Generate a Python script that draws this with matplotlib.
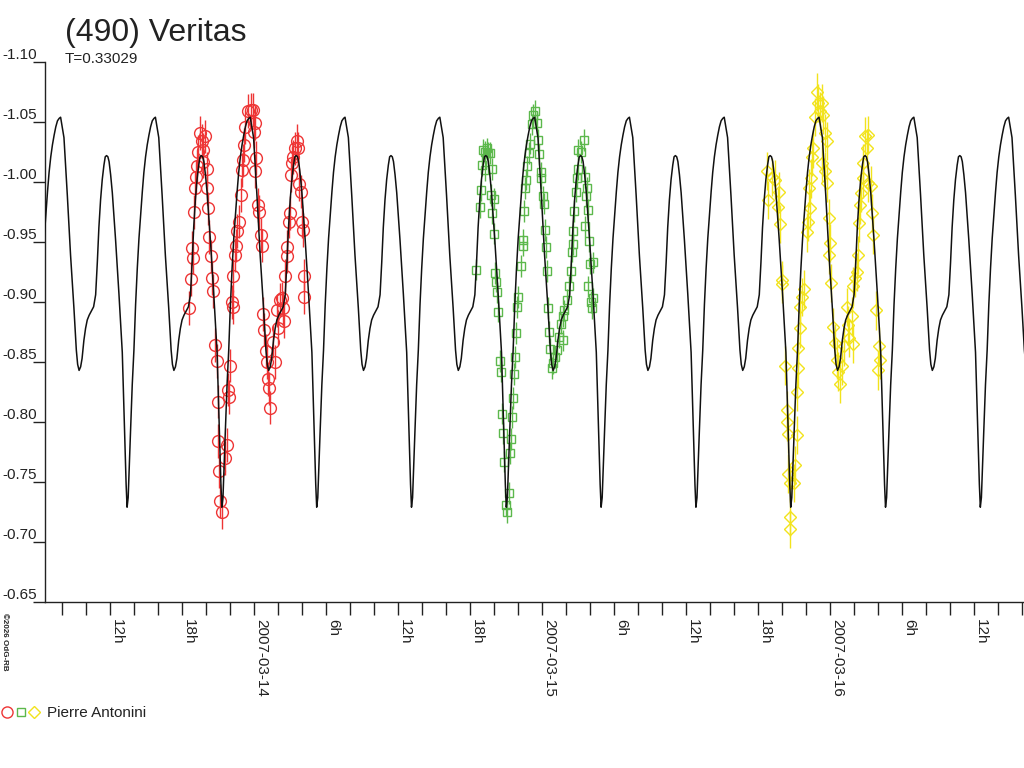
import numpy as np
import matplotlib
matplotlib.use("Agg")
import matplotlib.pyplot as plt
from matplotlib.legend_handler import HandlerTuple
from matplotlib.lines import Line2D

plt.rcParams['font.family'] = ['Liberation Sans', 'DejaVu Sans']
plt.rcParams['axes.unicode_minus'] = False

# time axis: hours since 2007-03-14 00:00 UT
x_min, x_max = -17.44, 64.14

# one rotation of the model lightcurve, phase (h) from the main maximum -> magnitude
period = 7.90
first_max = 7.56
cycle_phase = [0.00, 0.28, 0.56, 0.83, 1.11, 1.31, 1.42, 1.54, 1.67, 1.79, 1.94,
               2.08, 2.22, 2.38, 2.54, 2.75, 2.92, 3.06, 3.19, 3.33, 3.47, 3.61,
               3.72, 3.83, 3.94, 4.04, 4.17, 4.31, 4.58, 4.86, 5.14, 5.33, 5.46,
               5.54, 5.63, 5.71, 5.83, 5.97, 6.11, 6.25, 6.39, 6.53, 6.67, 6.81,
               6.94, 7.08, 7.22, 7.36, 7.50, 7.64, 7.78]
cycle_mag = [-1.054, -1.037, -0.989, -0.939, -0.895, -0.860, -0.848, -0.843, -0.846,
             -0.853, -0.868, -0.878, -0.885, -0.889, -0.892, -0.896, -0.906, -0.933,
             -0.962, -0.985, -1.002, -1.014, -1.021, -1.022, -1.021, -1.017, -1.006,
             -0.991, -0.952, -0.907, -0.858, -0.791, -0.748, -0.729, -0.737, -0.760,
             -0.793, -0.831, -0.860, -0.898, -0.928, -0.953, -0.9725, -0.992, -1.008,
             -1.021, -1.031, -1.039, -1.046, -1.051, -1.053]

# session 1 (red circles), 2007-03-13/14
red_t = [-5.41, -5.30, -5.13, -5.19, -5.02, -4.94, -4.86, -4.75, -4.66, -4.52, -4.38,
         -4.25, -4.11, -4.30, -3.97, -3.91, -3.83, -3.75, -3.63, -3.55, -3.41, -3.27,
         -3.13, -3.05, -3.00, -2.91, -2.86, -2.72, -2.44, -2.30, -2.22, -2.08, -2.02,
         -1.88, -1.80, -1.75, -1.61, -1.52, -1.47, -1.25, -1.13, -1.05, -0.97, -0.86,
         -0.77, -0.50, -0.30, -0.08, 0.06, -0.02, 0.14, 0.06, 0.34, 0.42, 0.53, 0.62,
         0.75, 0.84, 0.98, 1.03, 1.17, 1.25, 1.31, 1.53, 1.73, 1.87, 2.00, 2.14, 2.28,
         2.42, 2.50, 2.56, 2.70, 2.75, 2.92, 2.98, 3.03, 3.12, 3.25, 3.39, 3.53, 3.67,
         3.75, 3.87, 3.95, 4.03, 4.14, 4.14]
red_mag = [-0.895, -0.919, -0.937, -0.945, -0.975, -0.995, -1.004, -1.013, -1.025,
           -1.041, -1.034, -1.027, -1.038, -1.017, -1.011, -0.995, -0.978, -0.954,
           -0.938, -0.920, -0.909, -0.864, -0.851, -0.817, -0.784, -0.759, -0.734,
           -0.725, -0.770, -0.781, -0.827, -0.821, -0.847, -0.900, -0.896, -0.922,
           -0.939, -0.947, -0.959, -0.967, -0.989, -1.010, -1.018, -1.031, -1.046,
           -1.059, -1.060, -1.060, -1.049, -1.042, -1.020, -1.009, -0.981, -0.975,
           -0.956, -0.947, -0.890, -0.877, -0.859, -0.850, -0.836, -0.828, -0.812,
           -0.867, -0.850, -0.893, -0.878, -0.902, -0.903, -0.895, -0.884, -0.922,
           -0.938, -0.946, -0.967, -0.974, -1.006, -1.016, -1.021, -1.028, -1.034,
           -1.028, -0.998, -0.992, -0.967, -0.960, -0.922, -0.904]

# session 2 (green squares), 2007-03-14/15
green_t = [18.48, 18.81, 18.89, 18.95, 19.09, 19.23, 19.36, 19.50, 19.23, 19.64, 19.78,
           19.73, 19.98, 19.81, 20.00, 20.09, 20.14, 20.25, 20.34, 20.48, 20.56, 20.64,
           20.70, 20.81, 20.95, 21.09, 21.25, 21.31, 21.39, 21.48, 21.56, 21.64, 21.73,
           21.81, 21.92, 22.00, 22.23, 22.36, 22.42, 22.48, 22.56, 22.64, 22.75, 22.86,
           22.98, 23.11, 23.25, 23.39, 23.53, 23.67, 23.75, 23.86, 23.89, 24.03, 24.14,
           24.23, 24.31, 24.39, 24.48, 24.56, 24.64, 24.78, 24.92, 25.06, 25.25, 25.42,
           25.53, 25.70, 25.84, 26.03, 26.25, 26.36, 26.45, 26.53, 26.59, 26.64, 26.81,
           26.86, 26.95, 27.00, 27.23, 27.50, 27.56, 27.70, 27.61, 27.78, 27.56, 27.89,
           27.98, 28.20, 27.84, 28.03, 28.25, 28.11, 25.75]
green_mag = [-0.927, -0.979, -0.993, -1.014, -1.027, -1.025, -1.028, -1.024, -1.010,
             -1.024, -1.011, -0.989, -0.986, -0.974, -0.957, -0.924, -0.917, -0.908,
             -0.892, -0.851, -0.842, -0.807, -0.791, -0.767, -0.731, -0.725, -0.741,
             -0.774, -0.786, -0.804, -0.820, -0.840, -0.854, -0.874, -0.896, -0.904,
             -0.930, -0.947, -0.952, -0.976, -0.995, -1.002, -1.013, -1.024, -1.032,
             -1.048, -1.056, -1.059, -1.049, -1.035, -1.023, -1.008, -1.003, -0.988,
             -0.982, -0.960, -0.946, -0.926, -0.895, -0.875, -0.861, -0.845, -0.849,
             -0.854, -0.860, -0.871, -0.882, -0.888, -0.893, -0.902, -0.913, -0.926,
             -0.942, -0.948, -0.959, -0.976, -0.992, -1.003, -1.011, -1.027, -1.025,
             -1.035, -1.004, -0.995, -0.988, -0.977, -0.963, -0.951, -0.932, -0.933,
             -0.913, -0.900, -0.903, -0.895, -0.868]

# session 3 (yellow diamonds), 2007-03-15/16
yellow_t = [42.70, 42.84, 43.11, 43.39, 43.73, 43.61, 43.81, 43.95, 44.00, 44.23, 44.36,
            44.42, 44.50, 44.50, 44.64, 45.00, 44.64, 44.64, 45.06, 45.20, 45.20, 45.28,
            45.34, 45.48, 45.48, 45.61, 45.84, 46.03, 46.17, 46.31, 46.25, 46.39, 46.50,
            46.59, 46.73, 46.86, 47.00, 47.14, 47.28, 47.42, 47.56, 47.70, 47.28, 47.56,
            47.70, 47.89, 47.98, 47.89, 48.06, 48.25, 48.39, 48.53, 48.61, 48.81, 49.00,
            49.17, 49.36, 49.45, 49.59, 49.78, 49.92, 49.86, 50.06, 50.20, 50.34, 50.42,
            50.48, 50.56, 50.70, 50.75, 50.89, 51.11, 51.03, 51.17, 51.39, 51.45, 51.59,
            51.78, 52.06, 52.14, 52.00]
yellow_mag = [-1.009, -0.985, -1.004, -1.002, -0.992, -0.979, -0.965, -0.918, -0.915,
              -0.847, -0.810, -0.800, -0.790, -0.757, -0.749, -0.749, -0.721, -0.711,
              -0.764, -0.789, -0.825, -0.845, -0.862, -0.878, -0.896, -0.904, -0.911,
              -0.958, -0.967, -0.978, -0.995, -1.003, -1.021, -1.028, -1.054, -1.075,
              -1.066, -1.059, -1.066, -1.056, -1.041, -1.034, -1.016, -1.009, -0.999,
              -0.970, -0.949, -0.939, -0.916, -0.879, -0.866, -0.852, -0.842, -0.832,
              -0.847, -0.863, -0.896, -0.881, -0.870, -0.888, -0.865, -0.913, -0.920,
              -0.925, -0.939, -0.966, -0.981, -0.991, -1.003, -1.016, -1.038, -1.039,
              -1.028, -0.999, -0.997, -0.974, -0.956, -0.893, -0.863, -0.852, -0.843]

red_err, green_err, yellow_err = 0.014, 0.009, 0.016

tick_hours = [-12, -6, 0, 6, 12, 18, 24, 30, 36, 42, 48, 54, 60]
tick_labels = ['12h', '18h', '2007-03-14', '6h', '12h', '18h', '2007-03-15',
               '6h', '12h', '18h', '2007-03-16', '6h', '12h']
mag_ticks = [-1.10, -1.05, -1.00, -0.95, -0.90, -0.85, -0.80, -0.75, -0.70, -0.65]

c_red = '#ee3535'
c_green = '#5cb84c'
c_yellow = '#f2e31c'
c_text = '#222222'

fig = plt.figure(figsize=(10.24, 7.68), dpi=100)
ax = fig.add_axes([45 / 1024, 1 - 602 / 768, 1 - 45 / 1024, 540 / 768])

# model curve, repeating the read cycle over the whole time range
model_t, model_m = [], []
for k in range(-4, 8):
    for ph, m in zip(cycle_phase, cycle_mag):
        model_t.append(first_max + k * period + ph)
        model_m.append(m)
ax.plot(model_t, model_m, color='#111111', lw=1.1, zorder=4)

ax.errorbar(red_t, red_mag, yerr=red_err, fmt='o', mfc='none', mec=c_red, ecolor=c_red,
            ms=8.5, mew=1.0, elinewidth=1.0, capsize=0, zorder=3)
ax.errorbar(green_t, green_mag, yerr=green_err, fmt='s', mfc='none', mec=c_green,
            ecolor=c_green, ms=6, mew=1.0, elinewidth=1.0, capsize=0, zorder=3)
ax.errorbar(yellow_t, yellow_mag, yerr=yellow_err, fmt='D', mfc='none', mec=c_yellow,
            ecolor=c_yellow, ms=6, mew=1.0, elinewidth=1.0, capsize=0, zorder=3)

ax.set_xlim(x_min, x_max)
ax.set_ylim(-0.65, -1.10)
for s in ['top', 'right']:
    ax.spines[s].set_visible(False)
for s in ['left', 'bottom']:
    ax.spines[s].set_color(c_text)
    ax.spines[s].set_linewidth(1.0)

ax.set_xticks(tick_hours)
ax.set_xticklabels(tick_labels, rotation=-90, ha='left', va='top',
                   rotation_mode='default', fontsize=11, color=c_text)
ax.set_xticks(np.arange(-16, 65, 2), minor=True)
ax.tick_params(axis='x', which='both', direction='out', length=9, width=1.0,
               color=c_text, pad=3)

ax.set_yticks(mag_ticks)
ax.set_yticklabels(['%.2f' % v for v in mag_ticks], fontsize=11, color=c_text)
ax.tick_params(axis='y', direction='out', length=9, width=1.0, color=c_text, pad=-3.5)
for lbl in ax.get_yticklabels():
    lbl.set_va('bottom')

fig.text(65 / 1024, 1 - 41 / 768, '(490) Veritas', fontsize=23, color=c_text,
         ha='left', va='baseline')
fig.text(65 / 1024, 1 - 63 / 768, 'T=0.33029', fontsize=11, color=c_text,
         ha='left', va='baseline')
fig.text(1 / 1024, 1 - 613 / 768, '\u00a92026 OdG-RB', fontsize=5.8, color=c_text,
         rotation=-90, ha='left', va='top', fontweight='bold')

h_r = Line2D([], [], ls='none', marker='o', mfc='none', mec=c_red, ms=8, mew=1.0)
h_g = Line2D([], [], ls='none', marker='s', mfc='none', mec=c_green, ms=6, mew=1.0)
h_y = Line2D([], [], ls='none', marker='D', mfc='none', mec=c_yellow, ms=6, mew=1.0)
leg = fig.legend([(h_r, h_g, h_y)], ['Pierre Antonini'],
                 handler_map={tuple: HandlerTuple(ndivide=None, pad=0.2)},
                 loc='center left', bbox_to_anchor=(0.0, 1 - 713 / 768),
                 frameon=False, fontsize=11, handlelength=2.4, handletextpad=0.5,
                 borderpad=0, borderaxespad=0.15)
for t in leg.get_texts():
    t.set_color(c_text)

fig.savefig('out.png', dpi=100)
